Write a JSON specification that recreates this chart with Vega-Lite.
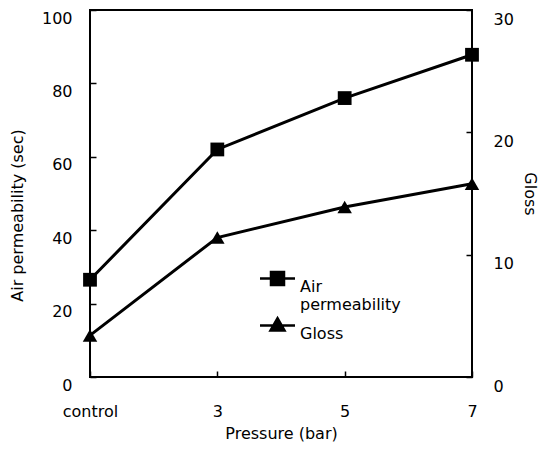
{
  "$schema": "https://vega.github.io/schema/vega-lite/v6.json",
  "autosize": "none",
  "width": 382,
  "height": 367,
  "padding": {"left": 90, "top": 10, "right": 71, "bottom": 73},
  "config": {
    "font": "DejaVu Sans",
    "view": {"stroke": "black", "strokeWidth": 2},
    "axis": {
      "labelFont": "DejaVu Sans",
      "titleFont": "DejaVu Sans",
      "labelFontSize": 16,
      "titleFontSize": 16,
      "labelColor": "black",
      "titleColor": "black",
      "titleFontWeight": "normal",
      "domain": false,
      "grid": false,
      "tickColor": "black",
      "tickWidth": 1.5,
      "tickSize": -6
    },
    "legend": {"labelFont": "DejaVu Sans", "labelFontSize": 16, "labelColor": "black", "padding": 0, "symbolStrokeWidth": 2.5}
  },
  "data": {
    "values": [
      {"pressure": "control", "air": 26.5, "gloss": 3.4},
      {"pressure": "3", "air": 62, "gloss": 11.4},
      {"pressure": "5", "air": 76, "gloss": 13.9},
      {"pressure": "7", "air": 87.8, "gloss": 15.8}
    ]
  },
  "encoding": {
    "x": {
      "field": "pressure",
      "type": "ordinal",
      "sort": ["control", "3", "5", "7"],
      "scale": {"type": "point", "padding": 0},
      "axis": {"title": "Pressure (bar)", "labelAngle": 0, "labelPadding": 32, "titlePadding": 6}
    }
  },
  "layer": [
    {
      "encoding": {
        "y": {
          "field": "air",
          "type": "quantitative",
          "scale": {"domain": [0, 100]},
          "axis": {"title": "Air permeability (sec)", "orient": "left", "values": [0, 20, 40, 60, 80, 100], "labelPadding": 24, "labelOffset": 8, "titlePadding": 16, "titleY": 205}
        }
      },
      "layer": [
        {"mark": {"type": "line", "color": "black", "strokeWidth": 3}, "encoding": {}},
        {"mark": {"type": "point", "filled": true, "color": "black", "size": 190, "opacity": 1, "shape": "square"}, "encoding": {}},
        {
          "mark": {"type": "point", "filled": false, "color": "black", "fill": "black", "stroke": "black", "strokeWidth": 2.5, "opacity": 0},
          "encoding": {
            "shape": {
              "datum": "Air permeability",
              "type": "nominal",
              "scale": {"domain": ["Air permeability", "Gloss"], "range": ["M-2.5,0H2.5M-0.93,-0.93H0.93V0.93H-0.93Z", "M-2.5,0H2.5M0,-1.05L1.0,0.7L-1.0,0.7Z"]},
              "legend": {
                "title": null,
                "orient": "none",
                "legendX": 179,
                "legendY": 260,
                "symbolSize": 196,
                "symbolStrokeWidth": 2.5,
                "symbolOpacity": 1,
                "labelBaseline": "top",
                "labelOffset": 14,
                "rowPadding": 0,
                "labelExpr": "datum.label == 'Air permeability' ? ['Air', 'permeability'] : datum.label"
              }
            }
          }
        }
      ]
    },
    {
      "encoding": {
        "y": {
          "field": "gloss",
          "type": "quantitative",
          "scale": {"domain": [0, 30]},
          "axis": {"title": "Gloss", "orient": "right", "values": [0, 10, 20, 30], "labelPadding": 27, "labelOffset": 9, "titlePadding": 8}
        }
      },
      "layer": [
        {"mark": {"type": "line", "color": "black", "strokeWidth": 3}, "encoding": {}},
        {"mark": {"type": "point", "filled": true, "color": "black", "size": 210, "opacity": 1, "shape": "triangle-up"}, "encoding": {}},
        {
          "mark": {"type": "point", "filled": false, "color": "black", "fill": "black", "stroke": "black", "strokeWidth": 2.5, "opacity": 0},
          "encoding": {"shape": {"datum": "Gloss", "type": "nominal"}}
        }
      ]
    }
  ],
  "resolve": {"scale": {"y": "independent"}}
}
